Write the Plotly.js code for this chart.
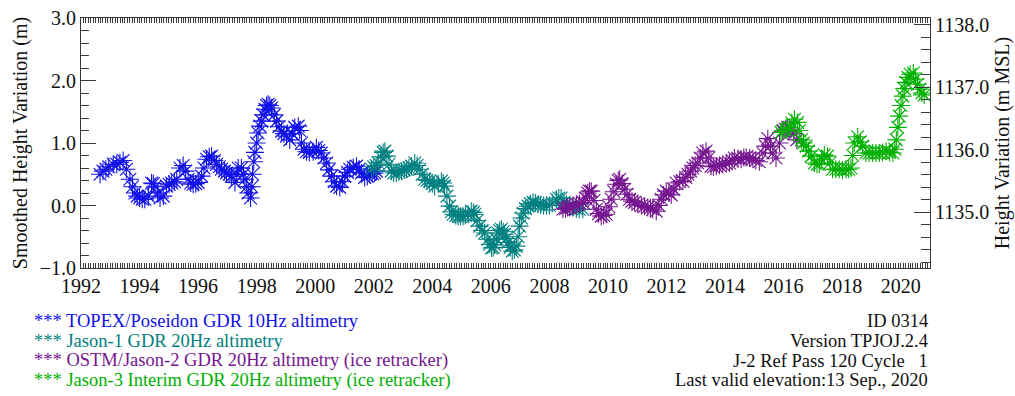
<!DOCTYPE html>
<html>
<head>
<meta charset="utf-8">
<script src="https://cdn.plot.ly/plotly-3.0.1.min.js"></script>
<style>
html,body{margin:0;padding:0;background:#fff;}
#chart{width:1015px;height:396px;}
</style>
</head>
<body>
<div id="chart"></div>
<script>
// ---- Data (decimal year, smoothed height in m) ----
const tpX = [1992.65,1992.75,1992.85,1992.95,1993.10,1993.22,1993.33,1993.44,1993.55,1993.67,1993.76,1993.84,1993.92,1994.00,1994.09,1994.18,1994.30,1994.41,1994.47,1994.53,1994.62,1994.70,1994.81,1994.92,1995.01,1995.10,1995.19,1995.27,1995.38,1995.49,1995.57,1995.66,1995.75,1995.83,1995.92,1996.00,1996.12,1996.20,1996.29,1996.38,1996.46,1996.55,1996.63,1996.72,1996.80,1996.90,1996.97,1997.06,1997.14,1997.26,1997.32,1997.37,1997.48,1997.55,1997.60,1997.66,1997.71,1997.79,1997.83,1997.86,1997.90,1997.94,1998.00,1998.05,1998.11,1998.17,1998.22,1998.28,1998.34,1998.39,1998.45,1998.51,1998.60,1998.68,1998.76,1998.85,1998.93,1999.02,1999.13,1999.22,1999.30,1999.42,1999.47,1999.53,1999.62,1999.70,1999.80,1999.93,2000.04,2000.12,2000.21,2000.30,2000.39,2000.47,2000.56,2000.65,2000.73,2000.84,2000.93,2001.01,2001.10,2001.18,2001.30,2001.41,2001.50,2001.58,2001.69,2001.78,2001.86,2001.95,2002.03,2002.09];
const tpY = [0.50,0.55,0.58,0.62,0.66,0.66,0.69,0.72,0.58,0.42,0.30,0.20,0.15,0.12,0.10,0.10,0.15,0.36,0.35,0.30,0.20,0.12,0.15,0.31,0.34,0.36,0.38,0.42,0.60,0.64,0.55,0.42,0.36,0.34,0.35,0.37,0.47,0.60,0.74,0.78,0.79,0.72,0.66,0.62,0.58,0.55,0.52,0.50,0.47,0.37,0.50,0.60,0.60,0.50,0.42,0.30,0.20,0.12,0.30,0.50,0.70,0.85,1.00,1.16,1.27,1.35,1.45,1.54,1.60,1.62,1.60,1.56,1.45,1.35,1.26,1.19,1.15,1.11,1.05,1.15,1.25,1.27,1.20,1.00,0.90,0.86,0.85,0.86,0.93,0.88,0.84,0.76,0.68,0.57,0.47,0.38,0.31,0.29,0.38,0.47,0.53,0.58,0.61,0.63,0.58,0.52,0.45,0.47,0.50,0.51,0.52,0.55];

const j1X = [2001.92,2002.00,2002.08,2002.15,2002.24,2002.32,2002.38,2002.45,2002.52,2002.60,2002.68,2002.77,2002.86,2002.95,2003.04,2003.12,2003.20,2003.29,2003.40,2003.48,2003.57,2003.66,2003.74,2003.82,2003.91,2004.00,2004.08,2004.20,2004.31,2004.37,2004.42,2004.50,2004.59,2004.65,2004.71,2004.80,2004.88,2004.96,2005.05,2005.13,2005.22,2005.33,2005.40,2005.45,2005.53,2005.62,2005.70,2005.79,2005.90,2005.96,2006.02,2006.08,2006.13,2006.19,2006.24,2006.30,2006.36,2006.42,2006.47,2006.53,2006.58,2006.66,2006.73,2006.80,2006.87,2006.93,2006.98,2007.04,2007.10,2007.18,2007.27,2007.35,2007.44,2007.52,2007.61,2007.70,2007.80,2007.90,2008.00,2008.10,2008.24,2008.32,2008.40,2008.50,2008.58,2008.70,2008.80,2008.92,2009.02,2009.14];
const j1Y = [0.58,0.62,0.64,0.68,0.78,0.85,0.87,0.79,0.66,0.55,0.52,0.52,0.54,0.55,0.57,0.58,0.60,0.63,0.68,0.64,0.58,0.50,0.42,0.40,0.39,0.35,0.31,0.35,0.39,0.36,0.31,0.15,-0.01,-0.10,-0.14,-0.16,-0.17,-0.17,-0.17,-0.16,-0.14,-0.09,-0.11,-0.14,-0.24,-0.33,-0.40,-0.44,-0.54,-0.62,-0.68,-0.67,-0.63,-0.54,-0.44,-0.40,-0.38,-0.42,-0.46,-0.53,-0.59,-0.67,-0.73,-0.71,-0.65,-0.50,-0.33,-0.20,-0.12,-0.05,-0.01,0.03,0.05,0.04,0.02,0.01,0.00,0.00,0.00,0.04,0.10,0.12,0.12,0.05,0.02,-0.01,-0.03,-0.05,-0.06,-0.06];

const osX = [2008.46,2008.55,2008.62,2008.69,2008.80,2008.92,2009.03,2009.15,2009.23,2009.31,2009.37,2009.43,2009.52,2009.60,2009.68,2009.77,2009.85,2009.94,2010.03,2010.11,2010.20,2010.28,2010.35,2010.40,2010.48,2010.57,2010.65,2010.74,2010.82,2010.91,2011.02,2011.14,2011.25,2011.36,2011.45,2011.53,2011.65,2011.74,2011.82,2011.90,2011.99,2012.08,2012.16,2012.25,2012.33,2012.45,2012.56,2012.65,2012.73,2012.82,2012.90,2012.98,2013.07,2013.15,2013.24,2013.35,2013.44,2013.52,2013.60,2013.70,2013.81,2013.92,2014.04,2014.15,2014.24,2014.32,2014.44,2014.55,2014.64,2014.72,2014.84,2014.95,2015.05,2015.17,2015.29,2015.38,2015.46,2015.55,2015.63,2015.74,2015.86,2015.97,2016.06,2016.14,2016.25,2016.35,2016.45];
const osY = [-0.06,-0.05,-0.03,-0.03,0.00,0.02,0.03,0.05,0.12,0.20,0.23,0.23,0.08,-0.06,-0.13,-0.17,-0.16,-0.14,-0.02,0.10,0.22,0.34,0.40,0.42,0.35,0.26,0.18,0.10,0.07,0.05,0.02,0.00,-0.01,-0.03,-0.04,-0.06,-0.09,0.00,0.10,0.17,0.23,0.20,0.17,0.26,0.36,0.38,0.39,0.45,0.50,0.55,0.60,0.64,0.68,0.76,0.84,0.87,0.76,0.63,0.62,0.63,0.64,0.66,0.67,0.68,0.72,0.76,0.75,0.74,0.77,0.77,0.76,0.75,0.72,0.70,0.84,0.95,1.07,0.95,0.84,0.76,1.00,1.19,1.22,1.25,1.22,1.15,1.05];

const j3X = [2015.91,2016.00,2016.10,2016.20,2016.28,2016.37,2016.48,2016.54,2016.60,2016.68,2016.77,2016.85,2016.94,2017.05,2017.14,2017.22,2017.30,2017.39,2017.50,2017.58,2017.67,2017.78,2017.90,2018.01,2018.13,2018.22,2018.30,2018.36,2018.41,2018.53,2018.62,2018.70,2018.81,2018.92,2019.04,2019.15,2019.27,2019.38,2019.50,2019.62,2019.73,2019.80,2019.85,2019.90,2019.95,2020.01,2020.07,2020.12,2020.18,2020.25,2020.32,2020.43,2020.50,2020.58,2020.65,2020.72,2020.80];
const j3Y = [1.17,1.20,1.22,1.25,1.32,1.38,1.33,1.20,1.05,1.00,0.95,0.87,0.79,0.68,0.66,0.66,0.74,0.81,0.79,0.68,0.58,0.58,0.58,0.57,0.58,0.58,0.60,0.80,1.00,1.10,1.02,0.95,0.84,0.84,0.84,0.84,0.84,0.85,0.87,0.85,0.84,0.90,1.05,1.25,1.43,1.60,1.75,1.87,1.97,2.05,2.10,2.12,2.02,1.94,1.86,1.80,1.77];

const seriesNames = ["TOPEX/Poseidon GDR 10Hz altimetry","Jason-1 GDR 20Hz altimetry","OSTM/Jason-2 GDR 20Hz altimetry (ice retracker)","Jason-3 Interim GDR 20Hz altimetry (ice retracker)"];
const seriesColors = ["#1010E8","#008080","#761590","#00B000"];

const xTickVals = [1992,1993,1994,1995,1996,1997,1998,1999,2000,2001,2002,2003,2004,2005,2006,2007,2008,2009,2010,2011,2012,2013,2014,2015,2016,2017,2018,2019,2020,2021];
const xTickText = ["1992","","1994","","1996","","1998","","2000","","2002","","2004","","2006","","2008","","2010","","2012","","2014","","2016","","2018","","2020",""];
const yLeftTicks = [-1,0,1,2,3];
const yRightTicks = [1135,1136,1137,1138];
const mslOffset = 1135.11;   // right axis = left axis + offset
const infoLines = ["ID 0314","Version TPJOJ.2.4","J-2 Ref Pass 120 Cycle &nbsp; 1","Last valid elevation:13 Sep., 2020"];

// ---- Layout geometry ----
const W = 1015, H = 396;
const PL = 81, PR = 930, PT = 18, PB = 268;
const px2x = p => (p - PL) / (PR - PL);
const px2y = p => (PB - p) / (PB - PT);

const serif = "Liberation Serif, Times New Roman, serif";
const axisColor = "#3a3a3a";

const xs = [tpX, j1X, osX, j3X], ys = [tpY, j1Y, osY, j3Y];
const traces = xs.map((x, i) => ({
  type: "scatter", mode: "markers", x: x, y: ys[i], name: seriesNames[i],
  marker: {symbol: "asterisk-open", size: 15, color: seriesColors[i],
           line: {color: seriesColors[i], width: 1.1}},
  showlegend: false, hoverinfo: "x+y"
}));
// invisible trace to activate right axis
traces.push({type: "scatter", mode: "markers", x: [1992], y: [mslOffset], yaxis: "y2",
  marker: {opacity: 0}, showlegend: false, hoverinfo: "skip"});

const annotations = [];
const lineYs = [321, 341, 360.5, 380];
seriesNames.forEach((t, i) => annotations.push({
  xref: "paper", yref: "paper", x: px2x(32), y: px2y(lineYs[i]), xanchor: "left", yanchor: "middle",
  text: "*** " + t, showarrow: false, font: {family: serif, size: 18.5, color: seriesColors[i]}
}));
infoLines.forEach((t, i) => annotations.push({
  xref: "paper", yref: "paper", x: px2x(930), y: px2y(lineYs[i]), xanchor: "right", yanchor: "middle",
  text: t, showarrow: false, font: {family: serif, size: 18.5, color: "#111"}
}));

const layout = {
  width: W, height: H,
  margin: {l: PL, r: W - PR, t: PT, b: H - PB, pad: 0},
  paper_bgcolor: "#fff", plot_bgcolor: "#fff",
  font: {family: serif, size: 20, color: "#111"},
  showlegend: false,
  xaxis: {
    range: [1992, 2021], tickmode: "array", tickvals: xTickVals, ticktext: xTickText,
    ticks: "inside", ticklen: 5, tickwidth: 1, tickcolor: axisColor,
    showline: true, linecolor: axisColor, linewidth: 1, mirror: "allticks",
    showgrid: false, zeroline: false, tickfont: {family: serif, size: 20, color: "#111"},
    minor: {tickmode: "linear", tick0: 1992, dtick: 1/12, ticks: "inside", ticklen: 2.5, tickcolor: axisColor, showgrid: false}
  },
  yaxis: {
    range: [-1, 3], tickmode: "array", tickvals: yLeftTicks, tickformat: ".1f",
    ticks: "inside", ticklen: 15, tickwidth: 1, tickcolor: axisColor,
    showline: true, linecolor: axisColor, linewidth: 1,
    showgrid: false, zeroline: false, tickfont: {family: serif, size: 20, color: "#111"},
    minor: {tickmode: "linear", tick0: -1, dtick: 0.2, ticks: "inside", ticklen: 8, tickcolor: axisColor, showgrid: false},
    title: {text: "Smoothed Height Variation (m)", font: {family: serif, size: 20, color: "#111"}, standoff: 6}
  },
  yaxis2: {
    overlaying: "y", side: "right", range: [-1 + mslOffset, 3 + mslOffset],
    tickmode: "array", tickvals: yRightTicks, tickformat: ".1f",
    ticks: "inside", ticklen: 16, tickwidth: 1, tickcolor: axisColor,
    showline: true, linecolor: axisColor, linewidth: 1,
    showgrid: false, zeroline: false, tickfont: {family: serif, size: 20, color: "#111"},
    minor: {tickmode: "linear", tick0: 1134, dtick: 0.2, ticks: "inside", ticklen: 9, tickcolor: axisColor, showgrid: false},
    title: {text: "Height Variation (m MSL)", font: {family: serif, size: 20, color: "#111"}, standoff: 6}
  },
  annotations: annotations
};

Plotly.newPlot("chart", traces, layout, {displayModeBar: false, staticPlot: true});
</script>
</body>
</html>
